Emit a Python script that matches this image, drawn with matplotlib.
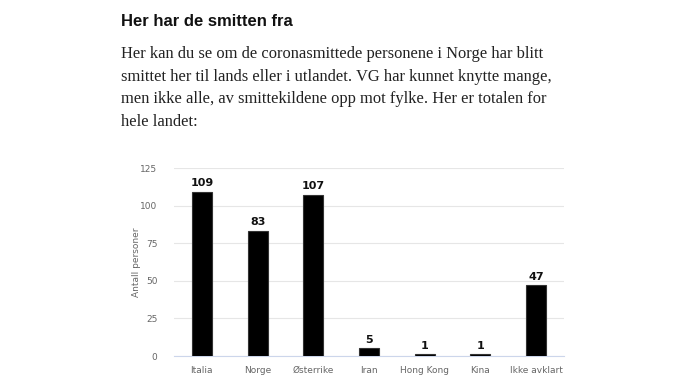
import numpy as np
import matplotlib.pyplot as plt

W, H = 700, 381

categories = ['Italia', 'Norge', 'Østerrike', 'Iran', 'Hong Kong', 'Kina', 'Ikke avklart']
counts = [109, 83, 107, 5, 1, 1, 47]
yticks = [0, 25, 50, 75, 100, 125]

title = 'Her har de smitten fra'
body = ['Her kan du se om de coronasmittede personene i Norge har blitt',
        'smittet her til lands eller i utlandet. VG har kunnet knytte mange,',
        'men ikke alle, av smittekildene opp mot fylke. Her er totalen for',
        'hele landet:']


def px(x, y):
    return x / W, 1 - y / H


def main():
    fig = plt.figure(figsize=(W / 100, H / 100), dpi=100)
    fig.patch.set_facecolor('white')

    fig.text(*px(121, 21), title, fontsize=12, fontweight='bold',
             family=['Liberation Sans', 'DejaVu Sans'], color='#111111', va='center')
    for i, line in enumerate(body):
        fig.text(*px(121, 54 + i * 22.7), line, fontsize=11.9,
                 family=['Liberation Serif', 'DejaVu Serif'], color='#222222', va='center')

    left, right = 174, 564
    top, bottom = 168, 356
    ax = fig.add_axes([left / W, 1 - bottom / H, (right - left) / W, (bottom - top) / H])

    x = np.arange(len(categories))
    ax.bar(x, counts, width=0.36, color='black', edgecolor='#333333', linewidth=0.8, zorder=3)
    for xi, v in zip(x, counts):
        ax.text(xi, v + 2.5, str(v), ha='center', va='bottom', fontsize=8,
                fontweight='bold', color='#111111')

    ax.set_xlim(-0.5, len(categories) - 0.5)
    ax.set_ylim(0, 125)
    ax.set_yticks(yticks)
    ax.set_xticks(x)
    ax.set_xticklabels(categories)
    ax.grid(axis='y', color='#e6e6e6', linewidth=0.8, zorder=0)
    ax.tick_params(axis='both', length=0, labelsize=6.5, labelcolor='#666666')
    ax.tick_params(axis='x', pad=7)
    ax.tick_params(axis='y', pad=12)
    for s in ['top', 'right', 'left']:
        ax.spines[s].set_visible(False)
    ax.spines['bottom'].set_color('#ccd6eb')
    ax.spines['bottom'].set_linewidth(0.8)
    ax.set_ylabel('Antall personer', fontsize=6.5, color='#666666', labelpad=-1)

    plt.savefig('out.png', dpi=100)


if __name__ == '__main__':
    main()
